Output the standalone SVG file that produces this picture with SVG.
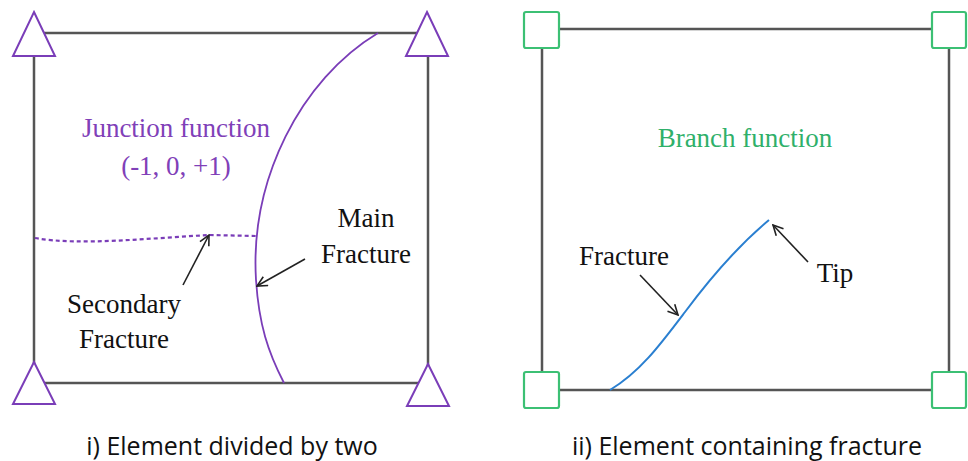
<svg xmlns="http://www.w3.org/2000/svg" width="968" height="461" viewBox="0 0 968 461">
<style>
.edge{stroke:#555;stroke-width:2.5;fill:none}
.tri{fill:#fff;stroke:#7a3db8;stroke-width:2}
.sq{fill:#fff;stroke:#3cc074;stroke-width:2.2}
.lbl{font-family:"Liberation Serif",serif;font-size:27px;fill:#111}
.pur{fill:#8040b8}
.grn{fill:#2fb06a}
.cap{font-family:"Open Sans","Liberation Sans",sans-serif;font-size:25px;fill:#111}
.arr{stroke:#222;stroke-width:1.6;fill:none;marker-end:url(#ah)}
</style>
<defs>
<marker id="ah" viewBox="0 0 12 12" refX="11" refY="6" markerWidth="12" markerHeight="12" markerUnits="userSpaceOnUse" orient="auto">
<path d="M1,1 L11,6 L1,11" fill="none" stroke="#222" stroke-width="1.6"/>
</marker>
</defs>
<g id="panel1">
<g id="element1">
<rect x="34" y="33" width="394" height="350" class="edge"/>
</g>
<g id="main-fracture">
<path d="M378,33 C300,80 250,180 256,280 C259,325 268,352 284,383" fill="none" stroke="#7a3db8" stroke-width="1.8"/>
</g>
<g id="secondary-fracture">
<path d="M35,238 C80,246 150,238 210,235 L256,236" fill="none" stroke="#7a3db8" stroke-width="2.2" stroke-dasharray="4,3"/>
</g>
<g id="node-tl"><polygon points="34,12 55,56 13,56" class="tri"/></g>
<g id="node-tr"><polygon points="427,12 448,56 406,56" class="tri"/></g>
<g id="node-bl"><polygon points="34,362 55,404 13,404" class="tri"/></g>
<g id="node-br"><polygon points="428,364 449,406 407,406" class="tri"/></g>
<text x="176" y="137" text-anchor="middle" class="lbl pur">Junction function</text>
<text x="176" y="175" text-anchor="middle" class="lbl pur">(-1, 0, +1)</text>
<text x="366" y="227" text-anchor="middle" class="lbl">Main</text>
<text x="366" y="263" text-anchor="middle" class="lbl">Fracture</text>
<text x="124" y="313" text-anchor="middle" class="lbl">Secondary</text>
<text x="124" y="348" text-anchor="middle" class="lbl">Fracture</text>
<text x="232" y="455" text-anchor="middle" class="cap">i) Element divided by two</text>
</g>
<g id="panel2">
<g id="element2">
<rect x="542" y="29" width="407" height="361" class="edge"/>
</g>
<g id="fracture">
<path d="M610,390 C640,372 660,345 685,312 C720,265 745,240 769,220" fill="none" stroke="#2a7fd0" stroke-width="2"/>
</g>
<g id="sq-tl"><rect x="524" y="12" width="35" height="36" rx="2" class="sq"/></g>
<g id="sq-tr"><rect x="932" y="12" width="34" height="36" rx="2" class="sq"/></g>
<g id="sq-bl"><rect x="524" y="372" width="35" height="36" rx="2" class="sq"/></g>
<g id="sq-br"><rect x="932" y="372" width="34" height="36" rx="2" class="sq"/></g>
<text x="745" y="147" text-anchor="middle" class="lbl grn">Branch function</text>
<text x="624" y="265" text-anchor="middle" class="lbl">Fracture</text>
<text x="835" y="282" text-anchor="middle" class="lbl">Tip</text>
<text x="747" y="455" text-anchor="middle" class="cap">ii) Element containing fracture</text>
</g>
<g id="connectors">
<line x1="183" y1="285" x2="209" y2="235" class="arr"/>
<line x1="305" y1="259" x2="257" y2="286" class="arr"/>
<line x1="640" y1="275" x2="678" y2="315" class="arr"/>
<line x1="808" y1="262" x2="773" y2="225" class="arr"/>
</g>
</svg>
